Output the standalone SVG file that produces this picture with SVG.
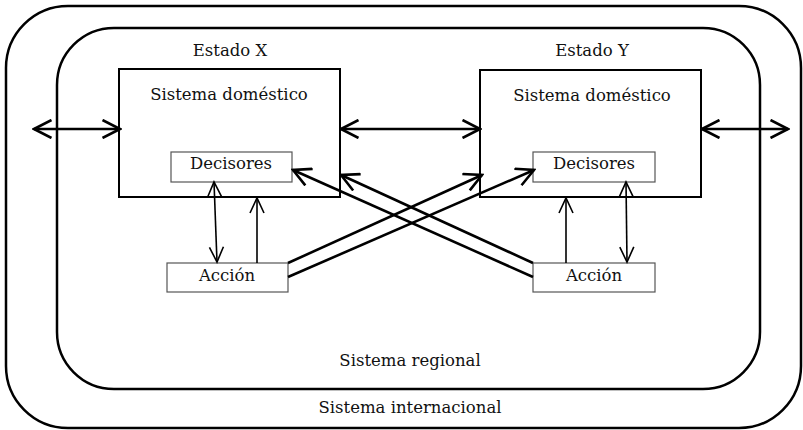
<svg xmlns="http://www.w3.org/2000/svg" width="803" height="430" viewBox="0 0 803 430">
<style>
.bound{fill:none;stroke:#000;stroke-width:2.5}
.box{fill:#fff;stroke:#000;stroke-width:2}
.sub{fill:#fff;stroke:#555;stroke-width:1.2}
text{font-family:"DejaVu Serif","Liberation Serif",serif;font-size:16.5px;fill:#111;text-anchor:middle}
.thick{fill:none;stroke:#000;stroke-width:2.6}
.thin{fill:none;stroke:#000;stroke-width:1.6}
</style>
<defs>
<marker id="big" viewBox="-20 -10 22 20" refX="0" refY="0" markerWidth="22" markerHeight="20" markerUnits="userSpaceOnUse" orient="auto-start-reverse">
<path d="M-17.5,-9 L0,0 L-17.5,9" fill="none" stroke="#000" stroke-width="2.6"/>
</marker>
<marker id="small" viewBox="-17 -9 19 18" refX="0" refY="0" markerWidth="19" markerHeight="18" markerUnits="userSpaceOnUse" orient="auto-start-reverse">
<path d="M-15,-7 L0,0 L-15,7" fill="none" stroke="#000" stroke-width="1.6"/>
</marker>
</defs>
<g id="internacional">
<rect class="bound" x="6" y="6" width="795" height="422" rx="62" ry="62"/>
<text x="410" y="413">Sistema internacional</text>
</g>
<g id="regional">
<rect class="bound" x="57" y="28" width="703" height="361" rx="57" ry="57"/>
<text x="410" y="366">Sistema regional</text>
</g>
<g id="estadoX">
<text x="230" y="56">Estado X</text>
<rect class="box" x="119" y="69" width="221" height="128"/>
<text x="229" y="100">Sistema doméstico</text>
</g>
<g id="decisoresX">
<rect class="sub" x="171" y="152" width="121" height="30"/>
<text x="231" y="169">Decisores</text>
</g>
<g id="accionX">
<rect class="sub" x="167" y="263" width="121" height="29"/>
<text x="227" y="281">Acción</text>
</g>
<g id="estadoY">
<text x="592" y="56">Estado Y</text>
<rect class="box" x="480" y="70" width="221" height="127"/>
<text x="592" y="101">Sistema doméstico</text>
</g>
<g id="decisoresY">
<rect class="sub" x="533" y="152" width="122" height="30"/>
<text x="594" y="169">Decisores</text>
</g>
<g id="accionY">
<rect class="sub" x="533" y="263" width="122" height="29"/>
<text x="594" y="281">Acción</text>
</g>
<g id="connectors">
<line class="thick" x1="34" y1="129" x2="120" y2="129" marker-start="url(#big)" marker-end="url(#big)"/>
<line class="thick" x1="341" y1="129" x2="480" y2="129" marker-start="url(#big)" marker-end="url(#big)"/>
<line class="thick" x1="702" y1="129" x2="788" y2="129" marker-start="url(#big)" marker-end="url(#big)"/>
<line class="thin" x1="214" y1="182" x2="217" y2="262" marker-start="url(#small)" marker-end="url(#small)"/>
<line class="thin" x1="257" y1="263" x2="257" y2="198" marker-end="url(#small)"/>
<line class="thin" x1="566" y1="263" x2="566" y2="198" marker-end="url(#small)"/>
<line class="thin" x1="626" y1="182" x2="627" y2="262" marker-start="url(#small)" marker-end="url(#small)"/>
<line class="thick" x1="288" y1="263" x2="482" y2="175" marker-end="url(#big)"/>
<line class="thick" x1="288" y1="277" x2="534" y2="170" marker-end="url(#big)"/>
<line class="thick" x1="533" y1="263" x2="341" y2="175" marker-end="url(#big)"/>
<line class="thick" x1="533" y1="277" x2="293" y2="170" marker-end="url(#big)"/>
</g>
</svg>
